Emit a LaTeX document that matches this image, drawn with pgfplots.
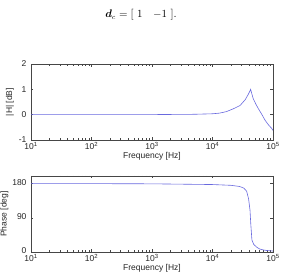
\documentclass[border=0pt]{standalone}
\usepackage{amsmath}
\usepackage{bm}
\usepackage{fontspec}
\newfontfamily\lsans{Liberation Sans}
\usepackage{pgfplots}
\pgfplotsset{compat=1.18}

\definecolor{curve}{RGB}{105,105,222}
\definecolor{frame}{RGB}{70,70,70}

\begin{document}
\begin{tikzpicture}[x=1pt,y=1pt]
\useasboundingbox (0,0) rectangle (282,279);
\node at (141,264) {\fontsize{10.5}{12}\selectfont$\bm{d}_c = [\ 1\quad {-1}\ ].$};

% magnitude response
\begin{axis}[at={(31pt,139pt)}, anchor=south west,
  width=242pt, height=76pt, scale only axis,
  xmode=log, xmin=10, xmax=100000,
  xtick={10,100,1000,10000,100000},
  xticklabels={10\textsuperscript{1},10\textsuperscript{2},10\textsuperscript{3},10\textsuperscript{4},10\textsuperscript{5}},
  minor xtick={20,30,40,50,60,70,80,90,200,300,400,500,600,700,800,900,2000,3000,4000,5000,6000,7000,8000,9000,20000,30000,40000,50000,60000,70000,80000,90000},
  tick pos=both, tick align=inside,
  major tick length=2.5pt, minor tick length=1.5pt,
  axis line style={frame, line width=0.5pt},
  every tick/.style={frame, line width=0.4pt},
  /pgf/number format/assume math mode=true,
  tick label style={font=\lsans\fontsize{8.5}{9}\selectfont, text=black!85},
  label style={font=\lsans\fontsize{8.5}{9}\selectfont, text=black!85},
  xlabel={Frequency [Hz]},
  xlabel style={yshift=4pt},
  xticklabel style={yshift=1pt},
  yticklabel style={xshift=-1pt},
  ymin=-1, ymax=2, ytick={-1,0,1,2},
  ylabel={|H| [dB]}, ylabel style={yshift=-2pt}]
\addplot[curve, line width=0.6pt] coordinates {
 (10,0) (100,0) (1000,0.003) (5000,0.015) (10000,0.035) (13000,0.06)
 (17000,0.12) (22000,0.23) (28500,0.36) (34700,0.59) (39000,0.8)
 (41500,0.93) (42700,1.0) (44500,0.84) (47000,0.64) (52000,0.42)
 (57500,0.23) (65000,0.02) (74000,-0.22) (84000,-0.4) (95000,-0.54)
 (100000,-0.62)
};
\end{axis}

% phase response
\begin{axis}[at={(31pt,27pt)}, anchor=south west,
  width=242pt, height=76pt, scale only axis,
  xmode=log, xmin=10, xmax=100000,
  xtick={10,100,1000,10000,100000},
  xticklabels={10\textsuperscript{1},10\textsuperscript{2},10\textsuperscript{3},10\textsuperscript{4},10\textsuperscript{5}},
  minor xtick={20,30,40,50,60,70,80,90,200,300,400,500,600,700,800,900,2000,3000,4000,5000,6000,7000,8000,9000,20000,30000,40000,50000,60000,70000,80000,90000},
  tick pos=both, tick align=inside,
  major tick length=2.5pt, minor tick length=1.5pt,
  axis line style={frame, line width=0.5pt},
  every tick/.style={frame, line width=0.4pt},
  /pgf/number format/assume math mode=true,
  tick label style={font=\lsans\fontsize{8.5}{9}\selectfont, text=black!85},
  label style={font=\lsans\fontsize{8.5}{9}\selectfont, text=black!85},
  xlabel={Frequency [Hz]},
  xlabel style={yshift=4pt},
  xticklabel style={yshift=1pt},
  ymin=0, ymax=200, ytick={0,90,180},
  yticklabel style={xshift=-1pt, yshift=1pt},
  ylabel={Phase [deg]}, ylabel style={yshift=-3pt}]
\addplot[curve, line width=0.6pt] coordinates {
 (10,180) (100,179.9) (1000,179.4) (10000,177.5) (20000,175.5)
 (28000,172.5) (33000,168) (36700,160) (39500,140) (41700,110)
 (42900,75) (44800,32) (48000,20) (53500,13) (60000,8) (69000,5.5)
 (80000,3.8) (100000,2.5)
};
\end{axis}
\end{tikzpicture}
\end{document}
